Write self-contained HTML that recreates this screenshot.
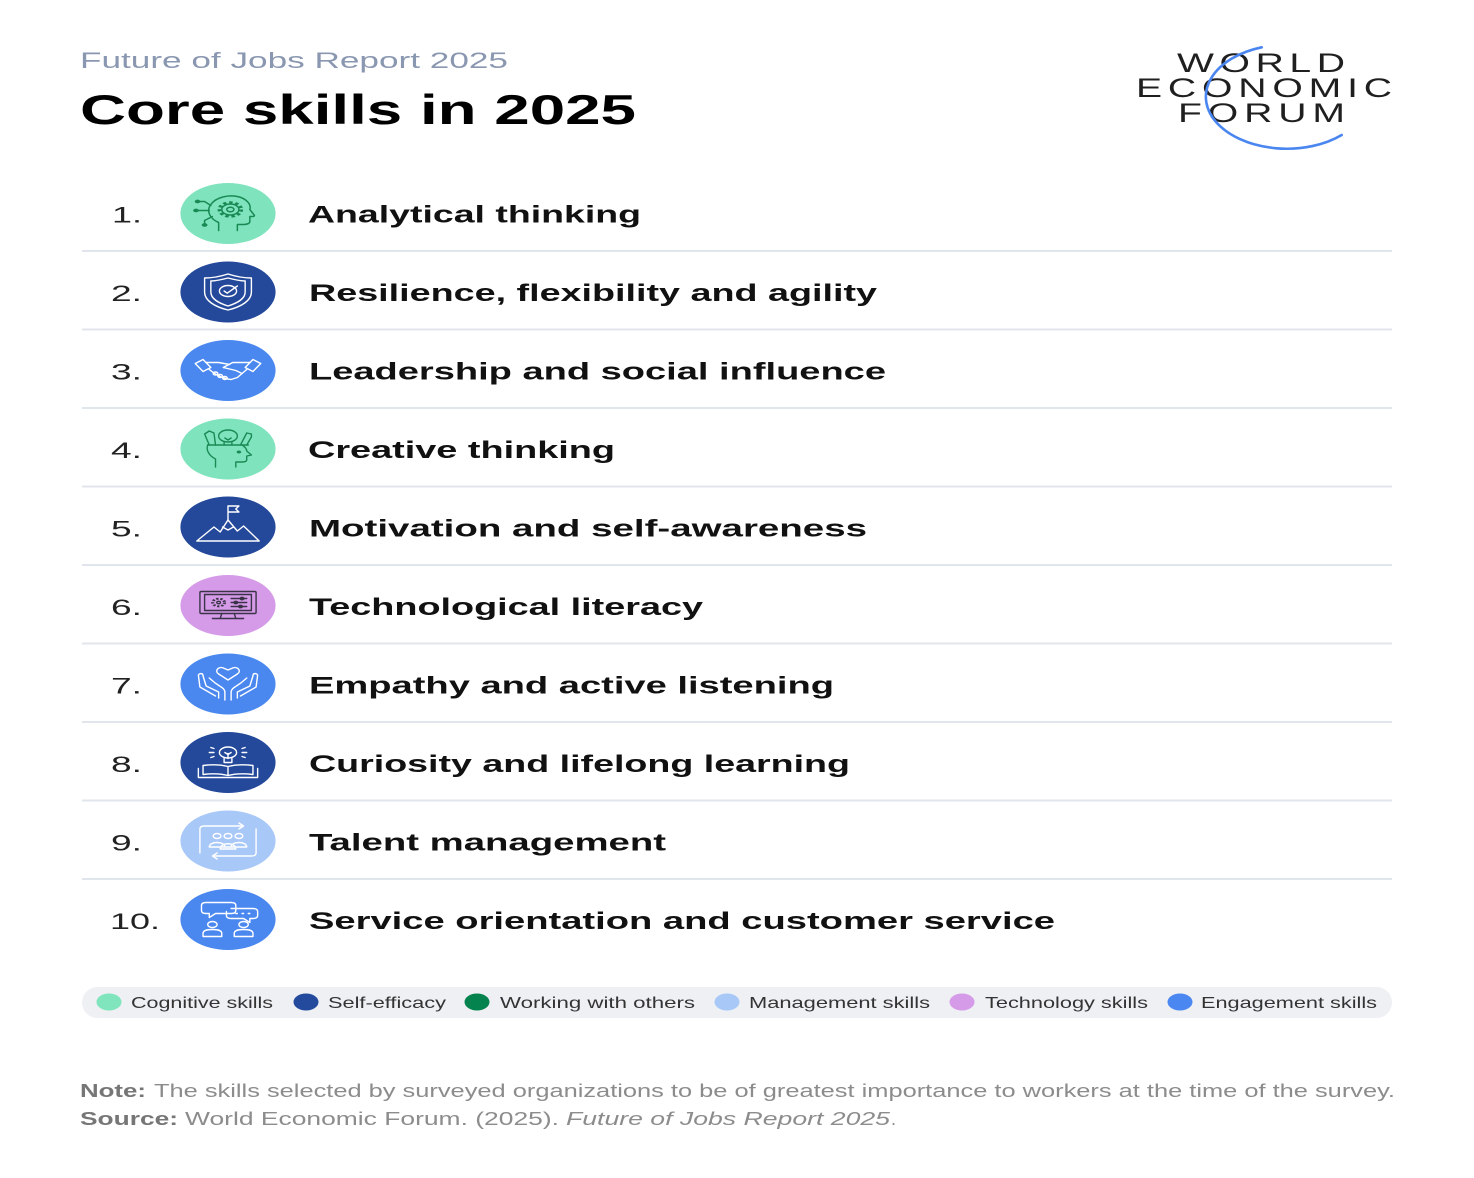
<!DOCTYPE html>
<html><head><meta charset="utf-8"><style>
html,body{margin:0;padding:0;background:#fff;}
svg{display:block;}
text{font-family:"Liberation Sans",sans-serif;}
</style></head><body>
<svg width="1474" height="1178" viewBox="0 0 1474 1178" xmlns="http://www.w3.org/2000/svg">
<rect width="1474" height="1178" fill="#fff"/>
<!-- header -->
<text x="80" y="68" font-size="22.5" fill="#8a97b0" textLength="428" lengthAdjust="spacingAndGlyphs">Future of Jobs Report 2025</text>
<text x="80" y="124" font-size="42" font-weight="bold" fill="#000" textLength="556" lengthAdjust="spacingAndGlyphs">Core skills in 2025</text>
<!-- logo -->
<text transform="translate(1177,72) scale(1.45,1)" font-size="27" fill="#1f1f1f" textLength="115.9" lengthAdjust="spacing">WORLD</text>
<text transform="translate(1136,97) scale(1.45,1)" font-size="27" fill="#1f1f1f" textLength="176.6" lengthAdjust="spacing">ECONOMIC</text>
<text transform="translate(1178,122) scale(1.45,1)" font-size="27" fill="#1f1f1f" textLength="115.2" lengthAdjust="spacing">FORUM</text>
<path d="M1261.7 47.3 A81 52 0 1 0 1341.7 135" fill="none" stroke="#4a86f0" stroke-width="2.6" stroke-linecap="round"/>

<!-- separators -->
<g stroke="#e1e6ec" stroke-width="2">
<line x1="82" y1="251" x2="1392" y2="251"/>
<line x1="82" y1="329.5" x2="1392" y2="329.5"/>
<line x1="82" y1="408" x2="1392" y2="408"/>
<line x1="82" y1="486.5" x2="1392" y2="486.5"/>
<line x1="82" y1="565" x2="1392" y2="565"/>
<line x1="82" y1="643.5" x2="1392" y2="643.5"/>
<line x1="82" y1="722" x2="1392" y2="722"/>
<line x1="82" y1="800.5" x2="1392" y2="800.5"/>
<line x1="82" y1="879" x2="1392" y2="879"/>
</g>

<!-- numbers -->
<g font-size="22" fill="#222">
<text x="112" y="222.5" textLength="30" lengthAdjust="spacingAndGlyphs">1.</text>
<text x="111" y="301" textLength="31" lengthAdjust="spacingAndGlyphs">2.</text>
<text x="111" y="379.5" textLength="31" lengthAdjust="spacingAndGlyphs">3.</text>
<text x="111" y="458" textLength="31" lengthAdjust="spacingAndGlyphs">4.</text>
<text x="111" y="536.5" textLength="31" lengthAdjust="spacingAndGlyphs">5.</text>
<text x="111" y="615" textLength="31" lengthAdjust="spacingAndGlyphs">6.</text>
<text x="111" y="693.5" textLength="31" lengthAdjust="spacingAndGlyphs">7.</text>
<text x="111" y="772" textLength="31" lengthAdjust="spacingAndGlyphs">8.</text>
<text x="111" y="850.5" textLength="31" lengthAdjust="spacingAndGlyphs">9.</text>
<text x="110" y="929" textLength="50" lengthAdjust="spacingAndGlyphs">10.</text>
</g>

<!-- labels -->
<g font-size="24" font-weight="bold" fill="#111">
<text x="308" y="222.5" textLength="333" lengthAdjust="spacingAndGlyphs">Analytical thinking</text>
<text x="309" y="301" textLength="568" lengthAdjust="spacingAndGlyphs">Resilience, flexibility and agility</text>
<text x="309" y="379.5" textLength="577" lengthAdjust="spacingAndGlyphs">Leadership and social influence</text>
<text x="308" y="458" textLength="307" lengthAdjust="spacingAndGlyphs">Creative thinking</text>
<text x="309" y="536.5" textLength="558" lengthAdjust="spacingAndGlyphs">Motivation and self-awareness</text>
<text x="309" y="615" textLength="394" lengthAdjust="spacingAndGlyphs">Technological literacy</text>
<text x="309" y="693.5" textLength="525" lengthAdjust="spacingAndGlyphs">Empathy and active listening</text>
<text x="309" y="772" textLength="541" lengthAdjust="spacingAndGlyphs">Curiosity and lifelong learning</text>
<text x="309" y="850.5" textLength="357" lengthAdjust="spacingAndGlyphs">Talent management</text>
<text x="309" y="929" textLength="746" lengthAdjust="spacingAndGlyphs">Service orientation and customer service</text>
</g>

<!-- icons -->
<g fill="none" stroke-linecap="round" stroke-linejoin="round">
<!-- 1 analytical -->
<g transform="translate(228,213.5) scale(1.56,1)">
<circle r="30.5" fill="#7fe3bd" stroke="none"/>
<g stroke="#1a8a55" stroke-width="1.5">
<path vector-effect="non-scaling-stroke" d="M-6 17 L-6 9 C-12 5 -14 -3 -11 -9 C-8 -16 0 -19 6 -17 C12 -15 15 -9 14 -4 L17 2 C17 3 16 3 14 3 L14 8 C14 10 12 11 10 11 L6 11 L6 17"/>
<circle cx="1.5" cy="-4" r="7" stroke-dasharray="2.2 1.8" stroke-width="2.4" stroke-linecap="butt"/>
<circle vector-effect="non-scaling-stroke" cx="1.5" cy="-4" r="5.5"/>
<circle vector-effect="non-scaling-stroke" cx="1.5" cy="-4" r="2.3"/>
<path vector-effect="non-scaling-stroke" d="M-11 -8 L-15 -12 L-19 -12 M-12 -3 L-20 -3 M-10 3 L-15 7 L-15 11"/>
<circle cx="-19.5" cy="-12" r="1.1" fill="#1a8a55"/>
<circle cx="-20.5" cy="-3" r="1.1" fill="#1a8a55"/>
<circle cx="-15" cy="11.5" r="1.1" fill="#1a8a55"/>
</g></g>
<!-- 2 resilience -->
<g transform="translate(228,292) scale(1.56,1)">
<circle r="30.5" fill="#24499b" stroke="none"/>
<g stroke="#fff" stroke-width="1.4">
<path vector-effect="non-scaling-stroke" d="M0 -18 C6 -15 10 -14 15 -14 L15 0 C15 9 8 15 0 18 C-8 15 -15 9 -15 0 L-15 -14 C-10 -14 -6 -15 0 -18 Z"/>
<path vector-effect="non-scaling-stroke" d="M0 -14 C5 -12 8 -11 11 -11 L11 0 C11 7 6 11 0 14 C-6 11 -11 7 -11 0 L-11 -11 C-8 -11 -5 -12 0 -14 Z"/>
<circle vector-effect="non-scaling-stroke" cx="0" cy="-1" r="5.5"/>
<path vector-effect="non-scaling-stroke" d="M-2.5 -1 L-0.5 1.2 L6 -6"/>
</g></g>
<!-- 3 leadership -->
<g transform="translate(228,370.5) scale(1.56,1)">
<circle r="30.5" fill="#4a88f0" stroke="none"/>
<g stroke="#fff" stroke-width="1.4">
<path vector-effect="non-scaling-stroke" d="M-21 -7 L-16 -11 L-11 -3 L-16 1 Z"/>
<path vector-effect="non-scaling-stroke" d="M21 -7 L16 -11 L11 -3 L16 1 Z"/>
<path vector-effect="non-scaling-stroke" d="M-14 -8 L-6 -8 L1 -6 M-3 -3 L3 -8 L9 -8 L14 -8"/>
<path vector-effect="non-scaling-stroke" d="M-12 -1 C-8 4 -4 8 2 9 L6 7 L12 -1 M-3 -3 L5 0 L9 3"/>
<circle vector-effect="non-scaling-stroke" cx="-8" cy="3" r="1.5"/>
<circle vector-effect="non-scaling-stroke" cx="-5" cy="5.5" r="1.5"/>
<circle vector-effect="non-scaling-stroke" cx="-2" cy="7.5" r="1.5"/>
</g></g>
<!-- 4 creative -->
<g transform="translate(228,449) scale(1.56,1)">
<circle r="30.5" fill="#7fe3bd" stroke="none"/>
<g stroke="#1a8a55" stroke-width="1.4">
<path vector-effect="non-scaling-stroke" d="M-8 18 L-8 10 C-13 6 -14 0 -13 -4 M9 -4 C11 -2 12 0 12 2 L15 6 L12 7 L12 11 C12 12 11 13 9 13 L5 13 L5 18"/>
<path vector-effect="non-scaling-stroke" d="M-13 -4 L13 -4"/>
<circle vector-effect="non-scaling-stroke" cx="0" cy="-13" r="6"/>
<path vector-effect="non-scaling-stroke" d="M-2.5 -7 L-2.5 -4 M2.5 -7 L2.5 -4 M-2 -11 L0 -9 L2 -11"/>
<path vector-effect="non-scaling-stroke" d="M-12 -4 L-15 -15 L-12 -18 L-9 -16 L-8 -4"/>
<path vector-effect="non-scaling-stroke" d="M8 -4 L12 -16 L15 -15 L15 -12 L12 -4"/>
<circle cx="7" cy="3" r="0.8" fill="#1a8a55"/>
</g></g>
<!-- 5 motivation -->
<g transform="translate(228,527) scale(1.56,1)">
<circle r="30.5" fill="#24499b" stroke="none"/>
<g stroke="#fff" stroke-width="1.4">
<path vector-effect="non-scaling-stroke" d="M-20 14 L-9 0 L-5 5 L0 -7 L6 4 L10 -1 L20 14 Z"/>
<path vector-effect="non-scaling-stroke" d="M-3.5 0 L0 3 L3.5 0"/>
<path vector-effect="non-scaling-stroke" d="M0 -7 L0 -21 L7 -21 L5 -18 L7 -15 L0 -15"/>
</g></g>
<!-- 6 technology -->
<g transform="translate(228,605.5) scale(1.56,1)">
<circle r="30.5" fill="#d69be8" stroke="none"/>
<g stroke="#3b3448" stroke-width="1.4">
<rect vector-effect="non-scaling-stroke" x="-18" y="-14" width="36" height="22" rx="1"/>
<rect vector-effect="non-scaling-stroke" x="-15" y="-11" width="30" height="16"/>
<path vector-effect="non-scaling-stroke" d="M-4 8 L-5 13 M4 8 L5 13 M-10 13 L10 13"/>
<circle cx="-6" cy="-3" r="3.8" stroke-dasharray="1.5 1.2" stroke-width="2" stroke-linecap="butt"/>
<circle vector-effect="non-scaling-stroke" cx="-6" cy="-3" r="1.2"/>
<path vector-effect="non-scaling-stroke" d="M2 -7 L12 -7 M2 -3 L12 -3 M2 1 L12 1"/>
<circle vector-effect="non-scaling-stroke" cx="9" cy="-7" r="1.2"/>
<circle vector-effect="non-scaling-stroke" cx="5" cy="-3" r="1.2"/>
<circle vector-effect="non-scaling-stroke" cx="8" cy="1" r="1.2"/>
</g></g>
<!-- 7 empathy -->
<g transform="translate(228,684) scale(1.56,1)">
<circle r="30.5" fill="#4a88f0" stroke="none"/>
<g stroke="#fff" stroke-width="1.4">
<path vector-effect="non-scaling-stroke" d="M0 -4 L-6 -10 C-9 -13 -6 -18 -3 -16 L0 -14 L3 -16 C6 -18 9 -13 6 -10 Z"/>
<path vector-effect="non-scaling-stroke" d="M-2 16 L-2 8 C-2 4 -6 2 -9 -2 L-12 -6 M-6 14 L-6 8 L-14 2 L-16 -8 C-16 -11 -18 -11 -19 -9 L-18 3 L-8 12"/>
<path vector-effect="non-scaling-stroke" d="M2 16 L2 8 C2 4 6 2 9 -2 L12 -6 M6 14 L6 8 L14 2 L16 -8 C16 -11 18 -11 19 -9 L18 3 L8 12"/>
</g></g>
<!-- 8 curiosity -->
<g transform="translate(228,762.5) scale(1.56,1)">
<circle r="30.5" fill="#24499b" stroke="none"/>
<g stroke="#fff" stroke-width="1.4">
<circle vector-effect="non-scaling-stroke" cx="0" cy="-10" r="5.5"/>
<path vector-effect="non-scaling-stroke" d="M-2.5 -4 L-2.5 0 L2.5 0 L2.5 -4 M0 -9 L0 -4 M-2 -10 L0 -8 L2 -10"/>
<path vector-effect="non-scaling-stroke" d="M-11 -15 L-9 -14 M-12 -10 L-9 -10 M-11 -5 L-9 -6 M11 -15 L9 -14 M12 -10 L9 -10 M11 -5 L9 -6"/>
<path vector-effect="non-scaling-stroke" d="M0 13 L0 4 C-5 2 -11 2 -16 3 L-16 12 C-11 11 -5 11 0 13 C5 11 11 11 16 12 L16 3 C11 2 5 2 0 4"/>
<path vector-effect="non-scaling-stroke" d="M-19 6 L-19 15 L19 15 L19 6"/>
</g></g>
<!-- 9 talent -->
<g transform="translate(228,841) scale(1.56,1)">
<circle r="30.5" fill="#a8c8f8" stroke="none"/>
<g stroke="#fff" stroke-width="1.4">
<path vector-effect="non-scaling-stroke" d="M-18 12 L-18 -12 C-18 -14 -17 -15 -15 -15 L10 -15 M7 -18 L10 -15 L7 -12"/>
<path vector-effect="non-scaling-stroke" d="M18 -12 L18 12 C18 14 17 15 15 15 L-10 15 M-7 12 L-10 15 L-7 18"/>
<circle vector-effect="non-scaling-stroke" cx="-7" cy="-5" r="2.5"/>
<circle vector-effect="non-scaling-stroke" cx="0" cy="-5" r="2.5"/>
<circle vector-effect="non-scaling-stroke" cx="7" cy="-5" r="2.5"/>
<path vector-effect="non-scaling-stroke" d="M-12 6 C-12 0 -2 0 -2 6 M-5 8 C-5 1 5 1 5 8 L-5 8 M2 6 C2 0 12 0 12 6 L-12 6"/>
</g></g>
<!-- 10 service -->
<g transform="translate(228,919.5) scale(1.56,1)">
<circle r="30.5" fill="#4a88f0" stroke="none"/>
<g stroke="#fff" stroke-width="1.4">
<path vector-effect="non-scaling-stroke" d="M-14 -17 L2 -17 C4 -17 5 -16 5 -14 L5 -9 C5 -7 4 -6 2 -6 L-8 -6 L-12 -2 L-12 -6 L-14 -6 C-16 -6 -17 -7 -17 -9 L-17 -14 C-17 -16 -16 -17 -14 -17 Z"/>
<path vector-effect="non-scaling-stroke" d="M2 -11 L16 -11 C18 -11 19 -10 19 -8 L19 -4 C19 -2 18 -1 16 -1 L14 -1 L14 3 L10 -1 L2 -1 C0 -1 -1 -2 -1 -4 L-1 -8"/>
<path vector-effect="non-scaling-stroke" d="M5 -6 L6 -6 M9 -6 L10 -6 M13 -6 L14 -6"/>
<circle vector-effect="non-scaling-stroke" cx="-10" cy="5" r="3"/>
<path vector-effect="non-scaling-stroke" d="M-16 17 L-16 14 C-16 11 -14 10 -10 10 C-6 10 -4 11 -4 14 L-4 17 Z"/>
<circle vector-effect="non-scaling-stroke" cx="10" cy="5" r="3"/>
<path vector-effect="non-scaling-stroke" d="M4 17 L4 14 C4 11 6 10 10 10 C14 10 16 11 16 14 L16 17 Z"/>
</g></g>
</g>

<!-- legend -->
<rect x="82" y="987" width="1310" height="31" rx="15.5" fill="#eef0f4"/>
<ellipse cx="109" cy="1002" rx="12.5" ry="8.5" fill="#80e5bd"/>
<ellipse cx="306" cy="1002" rx="12.5" ry="8.5" fill="#234a9c"/>
<ellipse cx="477" cy="1002" rx="12.5" ry="8.5" fill="#05834f"/>
<ellipse cx="727" cy="1002" rx="12.5" ry="8.5" fill="#a8c8f8"/>
<ellipse cx="962" cy="1002" rx="12.5" ry="8.5" fill="#d69be8"/>
<ellipse cx="1180" cy="1002" rx="12.5" ry="8.5" fill="#4a87f0"/>
<g font-size="16" fill="#333">
<text x="131" y="1008" textLength="142" lengthAdjust="spacingAndGlyphs">Cognitive skills</text>
<text x="328" y="1008" textLength="118" lengthAdjust="spacingAndGlyphs">Self-efficacy</text>
<text x="500" y="1008" textLength="195" lengthAdjust="spacingAndGlyphs">Working with others</text>
<text x="749" y="1008" textLength="181" lengthAdjust="spacingAndGlyphs">Management skills</text>
<text x="985" y="1008" textLength="163" lengthAdjust="spacingAndGlyphs">Technology skills</text>
<text x="1201" y="1008" textLength="176" lengthAdjust="spacingAndGlyphs">Engagement skills</text>
</g>

<!-- footnotes -->
<g font-size="18">
<text x="80" y="1097" font-weight="bold" fill="#767676" textLength="66" lengthAdjust="spacingAndGlyphs">Note:</text>
<text x="154" y="1097" fill="#8c8c8c" textLength="1241" lengthAdjust="spacingAndGlyphs">The skills selected by surveyed organizations to be of greatest importance to workers at the time of the survey.</text>
<text x="80" y="1125" font-weight="bold" fill="#767676" textLength="98" lengthAdjust="spacingAndGlyphs">Source:</text>
<text x="185" y="1125" fill="#8c8c8c" textLength="374" lengthAdjust="spacingAndGlyphs">World Economic Forum. (2025).</text>
<text x="566" y="1125" fill="#8c8c8c" font-style="italic" textLength="324" lengthAdjust="spacingAndGlyphs">Future of Jobs Report 2025</text>
<text x="891" y="1125" fill="#8c8c8c">.</text>
</g>
</svg>
</body></html>
